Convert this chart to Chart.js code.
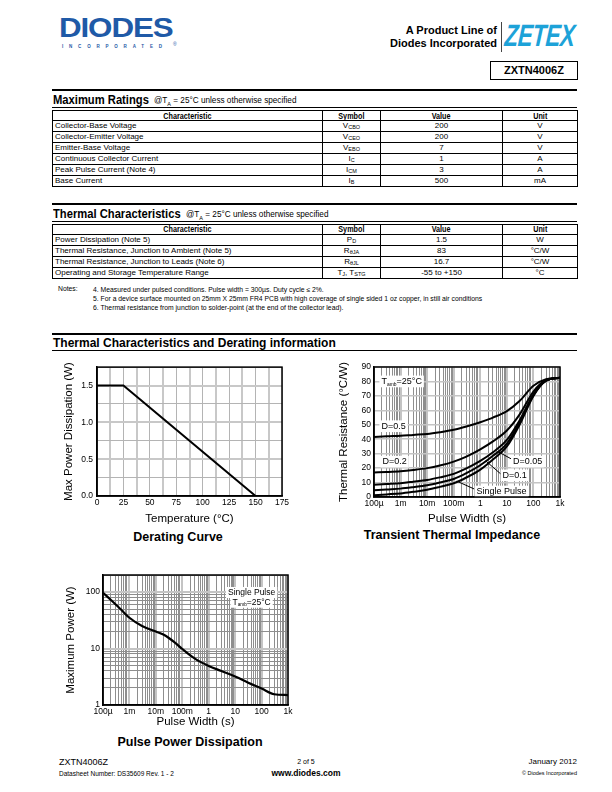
<!DOCTYPE html>
<html>
<head>
<meta charset="utf-8">
<script src="https://cdn.jsdelivr.net/npm/chart.js@4.4.1/dist/chart.umd.min.js"></script>
<style>
  body { margin: 0; background: #fff; }
  #page { position: relative; width: 612px; height: 792px; overflow: hidden; font-family: "Liberation Sans", Arial, sans-serif; color: #000; }
  .abs { position: absolute; white-space: nowrap; }
  .rule { position: absolute; left: 52px; width: 525px; background: #000; }
  .sect { position: absolute; left: 53px; font-weight: bold; font-size: 13.5px; white-space: nowrap; transform: scaleX(0.83); transform-origin: left top; }
  .sub7 { position: absolute; font-size: 8.2px; white-space: nowrap; }
  .sub7 sub { font-size: 5.5px; line-height: 0; }
  table.spec { position: absolute; left: 52px; width: 525px; border-collapse: collapse; table-layout: fixed; font-size: 8px; border: 1.5px solid #000; }
  table.spec td, table.spec th { border: 1px solid #000; padding: 0 2px; white-space: nowrap; line-height: 8px; }
  table.spec th { font-size: 8.5px; font-weight: bold; }
  table.spec th span { display: inline-block; transform: scaleX(0.85); }
  table.spec td.c { text-align: center; }
  table.spec sub { font-size: 5.5px; vertical-align: -1px; line-height: 0; }
  .cap { position: absolute; font-weight: bold; font-size: 12.5px; white-space: nowrap; transform: translateX(-50%); }
  canvas { position: absolute; }
</style>
</head>
<body>
<div id="page">
  <!-- header -->
  <div class="abs" style="left:59px;top:12px;font-size:28px;font-weight:900;color:#1f5aa7;letter-spacing:-1px;transform:scaleX(1.12);transform-origin:left top;">DIODES</div>
  <div class="abs" style="left:62px;top:44px;font-size:4.5px;font-weight:bold;color:#1f5aa7;letter-spacing:5.8px;">INCORPORATED</div>
  <div class="abs" style="left:173px;top:41px;font-size:5px;color:#1f5aa7;">®</div>
  <div class="abs" style="right:115px;top:24px;font-size:11px;font-weight:bold;text-align:right;line-height:13px;">A Product Line of<br>Diodes Incorporated</div>
  <div class="abs" style="left:501px;top:22px;width:1px;height:30px;background:#444;"></div>
  <div class="abs" style="left:506px;top:18px;font-size:31px;font-weight:900;font-style:italic;color:#1da2d8;transform:scaleX(0.72) skewX(-6deg);transform-origin:left top;letter-spacing:-0.5px;">ZETEX</div>
  <div class="abs" style="left:490px;top:61px;width:86px;height:17px;border:1px solid #000;font-size:11px;font-weight:bold;text-align:center;line-height:17px;">ZXTN4006Z</div>

  <!-- maximum ratings -->
  <div class="rule" style="top:89px;height:2px;"></div>
  <div class="sect" style="top:92px;">Maximum Ratings</div>
  <div class="sub7" style="left:154px;top:96px;">@T<sub>A</sub> = 25°C unless otherwise specified</div>
  <div class="rule" style="top:107px;height:1px;"></div>
  <table class="spec" style="top:110px;">
    <colgroup><col style="width:270px"><col style="width:58px"><col style="width:122px"><col style="width:75px"></colgroup>
    <tr style="height:10px"><th><span>Characteristic</span></th><th><span>Symbol</span></th><th><span>Value</span></th><th><span>Unit</span></th></tr>
    <tr style="height:11px"><td>Collector-Base Voltage</td><td class="c">V<sub>CBO</sub></td><td class="c">200</td><td class="c">V</td></tr>
    <tr style="height:11px"><td>Collector-Emitter Voltage</td><td class="c">V<sub>CEO</sub></td><td class="c">200</td><td class="c">V</td></tr>
    <tr style="height:11px"><td>Emitter-Base Voltage</td><td class="c">V<sub>EBO</sub></td><td class="c">7</td><td class="c">V</td></tr>
    <tr style="height:11px"><td>Continuous Collector Current</td><td class="c">I<sub>C</sub></td><td class="c">1</td><td class="c">A</td></tr>
    <tr style="height:11px"><td>Peak Pulse Current (Note 4)</td><td class="c">I<sub>CM</sub></td><td class="c">3</td><td class="c">A</td></tr>
    <tr style="height:11px"><td>Base Current</td><td class="c">I<sub>B</sub></td><td class="c">500</td><td class="c">mA</td></tr>
  </table>

  <!-- thermal characteristics -->
  <div class="rule" style="top:203px;height:2px;"></div>
  <div class="sect" style="top:206px;">Thermal Characteristics</div>
  <div class="sub7" style="left:186px;top:210px;">@T<sub>A</sub> = 25°C unless otherwise specified</div>
  <div class="rule" style="top:221px;height:1px;"></div>
  <table class="spec" style="top:224px;">
    <colgroup><col style="width:270px"><col style="width:58px"><col style="width:122px"><col style="width:75px"></colgroup>
    <tr style="height:9.5px"><th><span>Characteristic</span></th><th><span>Symbol</span></th><th><span>Value</span></th><th><span>Unit</span></th></tr>
    <tr style="height:11px"><td>Power Dissipation (Note 5)</td><td class="c">P<sub>D</sub></td><td class="c">1.5</td><td class="c">W</td></tr>
    <tr style="height:11px"><td>Thermal Resistance, Junction to Ambient (Note 5)</td><td class="c">R<sub>θJA</sub></td><td class="c">83</td><td class="c">°C/W</td></tr>
    <tr style="height:11px"><td>Thermal Resistance, Junction to Leads (Note 6)</td><td class="c">R<sub>θJL</sub></td><td class="c">16.7</td><td class="c">°C/W</td></tr>
    <tr style="height:11px"><td>Operating and Storage Temperature Range</td><td class="c">T<sub>J</sub>, T<sub>STG</sub></td><td class="c">-55 to +150</td><td class="c">°C</td></tr>
  </table>
  <div class="abs" style="left:58px;top:285px;font-size:6.8px;">Notes:</div>
  <div class="abs" style="left:93px;top:285px;font-size:6.8px;line-height:9px;">4. Measured under pulsed conditions. Pulse width = 300µs. Duty cycle ≤ 2%.<br>5. For a device surface mounted on 25mm X 25mm FR4 PCB with high coverage of single sided 1 oz copper, in still air conditions<br>6. Thermal resistance from junction to solder-point (at the end of the collector lead).</div>

  <!-- charts section -->
  <div class="rule" style="top:333px;height:2px;"></div>
  <div class="abs" style="left:53px;top:336px;font-size:12px;font-weight:bold;">Thermal Characteristics and Derating information</div>
  <div class="rule" style="top:350px;height:1px;"></div>

  <canvas id="derating" width="235" height="170" style="left:60px;top:358px;"></canvas>
  <div class="cap" style="left:178px;top:530px;">Derating Curve</div>

  <canvas id="transient" width="240" height="170" style="left:335px;top:358px;"></canvas>
  <div class="cap" style="left:452px;top:528px;">Transient Thermal Impedance</div>

  <canvas id="pulse" width="235" height="165" style="left:62px;top:566px;"></canvas>
  <div class="cap" style="left:190px;top:735px;">Pulse Power Dissipation</div>

  <!-- footer -->
  <div class="abs" style="left:59px;top:757px;font-size:9px;">ZXTN4006Z</div>
  <div class="abs" style="left:59px;top:770px;font-size:6.5px;">Datasheet Number: DS35609 Rev. 1 - 2</div>
  <div class="abs" style="left:306px;top:758px;font-size:7px;transform:translateX(-50%);">2 of 5</div>
  <div class="abs" style="left:306px;top:768px;font-size:8.5px;font-weight:bold;transform:translateX(-50%);">www.diodes.com</div>
  <div class="abs" style="right:35px;top:757px;font-size:8px;">January 2012</div>
  <div class="abs" style="right:35px;top:770px;font-size:5.5px;">© Diodes Incorporated</div>
</div>

<script>
// Derating curve
const derTemp = [0, 25, 150];
const derPower = [1.5, 1.5, 0];

// Transient thermal impedance (°C/W) vs pulse width (s)
const tPulse = [1e-4, 3e-4, 1e-3, 3e-3, 1e-2, 3e-2, 0.1, 0.3, 1, 3, 10, 30, 100, 300, 1000];
const zD05 = [41.5, 42.0, 42.4, 43.0, 43.6, 44.8, 46.5, 48.8, 51.8, 55.0, 59.5, 66.5, 77.0, 81.5, 82.5];
const zD02 = [17.0, 17.3, 17.8, 18.7, 20.0, 21.8, 24.5, 28.0, 33.0, 38.5, 46.0, 57.0, 73.0, 81.0, 82.5];
const zD01 = [8.5, 9.0, 9.6, 10.6, 11.8, 13.6, 16.0, 19.8, 25.0, 31.0, 39.5, 53.0, 71.0, 80.6, 82.5];
const zD005 = [4.6, 5.2, 5.8, 6.8, 8.1, 10.0, 12.5, 16.5, 22.0, 28.5, 37.0, 51.5, 70.5, 80.5, 82.5];
const zSingle = [1.2, 1.8, 2.5, 3.6, 5.0, 7.0, 9.5, 13.5, 19.0, 26.0, 35.0, 50.0, 70.0, 80.5, 82.5];

// Pulse power dissipation (W) vs pulse width (s)
const pwTime = [1e-4, 2e-4, 5e-4, 1e-3, 3e-3, 1e-2, 2e-2, 5e-2, 0.1, 0.3, 1, 3, 10, 30, 100, 300, 1000];
const pwPower = [97, 72, 48, 35, 25, 20, 17.5, 13, 9.8, 6.6, 4.9, 4.0, 3.2, 2.5, 1.95, 1.55, 1.5];

const decadeLabels = { '-4': '100µ', '-3': '1m', '-2': '10m', '-1': '100m', '0': '1', '1': '10', '2': '100', '3': '1k' };

const FONT = "'Liberation Sans', Arial, sans-serif";

function logValues(eLo, eHi, max) {
  const out = [];
  for (let e = eLo; e <= eHi; e++) {
    for (let m = 1; m <= 9; m++) {
      const v = +(m * Math.pow(10, e)).toPrecision(4);
      if (v <= max) out.push(v);
    }
  }
  return out;
}
function isDecade(v) {
  const l = Math.log10(v);
  return Math.abs(l - Math.round(l)) < 1e-6;
}

// box round the plot area plus text notes and leader lines
const extras = {
  id: 'extras',
  afterDatasetsDraw(chart, args, opts) {
    const ctx = chart.ctx, a = chart.chartArea;
    const xs = chart.scales.x, ys = chart.scales.y;
    ctx.save();
    (opts.lines || []).forEach(l => {
      ctx.strokeStyle = '#000';
      ctx.lineWidth = 1;
      ctx.beginPath();
      ctx.moveTo(xs.getPixelForValue(l.from[0]), ys.getPixelForValue(l.from[1]));
      ctx.lineTo(xs.getPixelForValue(l.to[0]), ys.getPixelForValue(l.to[1]));
      ctx.stroke();
    });
    (opts.notes || []).forEach(n => {
      const px = xs.getPixelForValue(n.x), py = ys.getPixelForValue(n.y);
      const size = n.size || 9;
      let w = 0;
      n.parts.forEach(p => {
        ctx.font = (p.sub ? size * 0.55 : size) + 'px ' + FONT;
        w += ctx.measureText(p.t).width;
      });
      let x0 = n.align === 'center' ? px - w / 2 : px;
      ctx.fillStyle = '#fff';
      ctx.fillRect(x0 - 2, py - size * 0.65, w + 4, size * 1.3);
      ctx.fillStyle = '#000';
      ctx.textBaseline = 'middle';
      ctx.textAlign = 'left';
      n.parts.forEach(p => {
        ctx.font = (p.sub ? size * 0.55 : size) + 'px ' + FONT;
        ctx.fillText(p.t, x0, p.sub ? py + size * 0.35 : py);
        x0 += ctx.measureText(p.t).width;
      });
    });
    ctx.strokeStyle = '#000';
    ctx.lineWidth = 1.5;
    ctx.strokeRect(a.left, a.top, a.right - a.left, a.bottom - a.top);
    ctx.restore();
  }
};

function axisTitle(text) {
  return { display: true, text: text, color: '#000', font: { family: FONT, size: 11.5 }, padding: { top: 2, bottom: 2 } };
}
const tickFont = { family: FONT, size: 8.5 };

function lineSet(xv, yv, width) {
  return {
    data: xv.map((x, i) => ({ x: x, y: yv[i] })),
    borderColor: '#000', borderWidth: width, pointRadius: 0,
    cubicInterpolationMode: 'monotone', fill: false
  };
}

Chart.defaults.animation = false;
Chart.defaults.responsive = false;
Chart.defaults.devicePixelRatio = 1;

// ---- Derating curve ----
new Chart(document.getElementById('derating'), {
  type: 'line',
  data: { datasets: [ Object.assign(lineSet(derTemp, derPower, 2), { cubicInterpolationMode: 'default', tension: 0 }) ] },
  options: {
    layout: { padding: { top: 9, right: 13 } },
    plugins: { legend: { display: false }, tooltip: { enabled: false }, extras: {} },
    scales: {
      x: {
        type: 'linear', min: 0, max: 175,
        afterFit: s => { s.height = 32; },
        ticks: { stepSize: 12.5, color: '#000', font: tickFont, padding: 2, maxRotation: 0, autoSkip: false,
                 callback: v => (v % 25 === 0 ? String(v) : '') },
        grid: { drawTicks: false, color: c => (c.tick && c.tick.value % 25 !== 0 ? '#c8c8c8' : '#b4b4b4'),
                lineWidth: c => (c.tick && c.tick.value % 25 !== 0 ? 2 : 1) },
        border: { color: '#000', width: 1.5 },
        title: axisTitle('Temperature (°C)')
      },
      y: {
        type: 'linear', min: 0, max: 1.75,
        afterFit: s => { s.width = 37; },
        ticks: { stepSize: 0.25, color: '#000', font: tickFont, padding: 4,
                 callback: v => (Math.abs(v * 2 - Math.round(v * 2)) < 1e-9 ? v.toFixed(1) : '') },
        grid: { drawTicks: false, color: c => (c.tick && Math.abs(c.tick.value * 2 - Math.round(c.tick.value * 2)) < 1e-9 ? '#c8c8c8' : '#b4b4b4'),
                lineWidth: c => (c.tick && Math.abs(c.tick.value * 2 - Math.round(c.tick.value * 2)) < 1e-9 ? 2 : 1) },
        border: { color: '#000', width: 1.5 },
        title: axisTitle('Max Power Dissipation (W)')
      }
    }
  },
  plugins: [extras]
});

// ---- Transient thermal impedance ----
const tSeries = [zD05, zD02, zD01, zD005, zSingle];
const tAmb = [{ t: 'T' }, { t: 'amb', sub: true }, { t: '=25°C' }];
new Chart(document.getElementById('transient'), {
  type: 'line',
  data: { datasets: tSeries.map(z => lineSet(tPulse, z, 2)) },
  options: {
    layout: { padding: { top: 9, right: 15 } },
    plugins: {
      legend: { display: false }, tooltip: { enabled: false },
      extras: {
        lines: [
          { from: [16, 26], to: [4.5, 31.5] },
          { from: [6.3, 15.5], to: [1.6, 25] },
          { from: [0.6, 5.5], to: [0.13, 11] }
        ],
        notes: [
          { x: 1.9e-4, y: 80, parts: tAmb },
          { x: 1.9e-4, y: 49, parts: [{ t: 'D=0.5' }] },
          { x: 2.1e-4, y: 24.5, parts: [{ t: 'D=0.2' }] },
          { x: 17, y: 24.5, parts: [{ t: 'D=0.05' }] },
          { x: 6.9, y: 15, parts: [{ t: 'D=0.1' }] },
          { x: 0.72, y: 3.8, parts: [{ t: 'Single Pulse' }] }
        ]
      }
    },
    scales: {
      x: {
        type: 'logarithmic', min: 1e-4, max: 1000,
        afterBuildTicks: s => { s.ticks = logValues(-4, 3, 1000).map(v => ({ value: v })); },
        afterFit: s => { s.height = 31; },
        ticks: { color: '#000', font: tickFont, padding: 2, maxRotation: 0, autoSkip: false,
                 callback: v => (isDecade(v) ? decadeLabels[String(Math.round(Math.log10(v)))] : '') },
        grid: { drawTicks: false, color: c => (c.tick && isDecade(c.tick.value) ? '#c4c4c4' : '#8e8e8e'),
                lineWidth: c => (c.tick && isDecade(c.tick.value) ? 2 : 1) },
        border: { color: '#000', width: 1.5 },
        title: axisTitle('Pulse Width (s)')
      },
      y: {
        type: 'linear', min: 0, max: 90,
        afterFit: s => { s.width = 39; },
        ticks: { stepSize: 10, color: '#000', font: tickFont, padding: 3 },
        grid: { drawTicks: false, color: '#c4c4c4', lineWidth: 1.5 },
        border: { color: '#000', width: 1.5 },
        title: axisTitle('Thermal Resistance (°C/W)')
      }
    }
  },
  plugins: [extras]
});

// ---- Pulse power dissipation ----
new Chart(document.getElementById('pulse'), {
  type: 'line',
  data: { datasets: [ lineSet(pwTime, pwPower, 2.2) ] },
  options: {
    layout: { padding: { top: 9, right: 9 } },
    plugins: {
      legend: { display: false }, tooltip: { enabled: false },
      extras: {
        notes: [
          { x: 42, y: 98, align: 'center', size: 8.5, parts: [{ t: 'Single Pulse' }] },
          { x: 42, y: 66, align: 'center', size: 8.5, parts: tAmb }
        ]
      }
    },
    scales: {
      x: {
        type: 'logarithmic', min: 1e-4, max: 1000,
        afterBuildTicks: s => { s.ticks = logValues(-4, 3, 1000).map(v => ({ value: v })); },
        afterFit: s => { s.height = 26; },
        ticks: { color: '#000', font: tickFont, padding: 2, maxRotation: 0, autoSkip: false,
                 callback: v => (isDecade(v) ? decadeLabels[String(Math.round(Math.log10(v)))] : '') },
        grid: { drawTicks: false, color: c => (c.tick && isDecade(c.tick.value) ? '#c4c4c4' : '#8e8e8e'),
                lineWidth: c => (c.tick && isDecade(c.tick.value) ? 2 : 1) },
        border: { color: '#000', width: 1.5 },
        title: axisTitle('Pulse Width (s)')
      },
      y: {
        type: 'logarithmic', min: 1, max: 200,
        afterBuildTicks: s => { s.ticks = logValues(0, 2, 200).map(v => ({ value: v })); },
        afterFit: s => { s.width = 41; },
        ticks: { color: '#000', font: tickFont, padding: 3, autoSkip: false,
                 callback: v => (isDecade(v) ? String(v) : '') },
        grid: { drawTicks: false, color: c => (c.tick && isDecade(c.tick.value) ? '#c4c4c4' : '#8e8e8e'),
                lineWidth: c => (c.tick && isDecade(c.tick.value) ? 2 : 1) },
        border: { color: '#000', width: 1.5 },
        title: axisTitle('Maximum Power (W)')
      }
    }
  },
  plugins: [extras]
});
</script>
</body>
</html>
